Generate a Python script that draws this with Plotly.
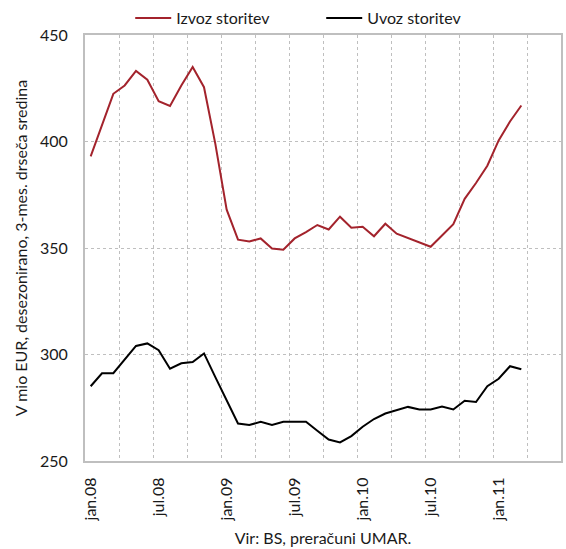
import plotly.graph_objects as go

# Monthly categories, Jan 2008 - Jun 2011
month_names = ["jan", "feb", "mar", "apr", "maj", "jun",
               "jul", "avg", "sep", "okt", "nov", "dec"]
years = ["08", "09", "10", "11"]
categories = [f"{m}.{y}" for y in years for m in month_names][:42]

# 3-month moving averages, seasonally adjusted (mio EUR)
izvoz = [393.0, 407.6, 422.4, 426.3, 433.1, 429.0, 418.9, 416.7, 426.3, 435.0,
         425.5, 398.9, 368.0, 353.9, 353.1, 354.5, 349.8, 349.2, 354.5, 357.5,
         360.8, 358.7, 364.7, 359.5, 360.0, 355.5, 361.4, 356.7, 354.7, 352.7,
         350.6, 355.9, 361.2, 373.1, 380.5, 388.6, 400.5, 409.4, 416.9]
uvoz = [285.1, 291.2, 291.2, 297.7, 304.0, 305.2, 302.0, 293.3, 295.9, 296.5,
        300.5, 289.4, 278.4, 267.6, 266.9, 268.4, 266.9, 268.4, 268.4, 268.4,
        264.2, 260.1, 258.7, 261.7, 266.1, 269.7, 272.3, 273.9, 275.4, 274.2,
        274.2, 275.6, 274.2, 278.3, 277.7, 285.1, 288.6, 294.5, 293.1]

y_ticks = [250, 300, 350, 400, 450]
label_step = 6

FONT = "Lato"
GRID = "#bfbfbf"
FS = 16

fig = go.Figure()
fig.add_trace(go.Scatter(x=list(range(len(izvoz))), y=izvoz, mode="lines",
                         name="Izvoz storitev",
                         line=dict(color="#a3232c", width=2)))
fig.add_trace(go.Scatter(x=list(range(len(uvoz))), y=uvoz, mode="lines",
                         name="Uvoz storitev",
                         line=dict(color="#000000", width=2)))

tick_idx = list(range(0, 37, label_step))
fig.update_layout(
    width=566, height=549,
    margin=dict(l=85, r=5, t=35, b=88, autoexpand=False),
    paper_bgcolor="white", plot_bgcolor="white",
    font=dict(family=FONT, size=FS, color="#1a1a1a"),
    showlegend=True,
    legend=dict(orientation="h", x=0.095, xanchor="left", y=1.0,
                yanchor="bottom", font=dict(size=FS),
                entrywidth=140, entrywidthmode="pixels",
                itemwidth=36, bgcolor="rgba(0,0,0,0)"),
    xaxis=dict(
        range=[-0.5, len(categories) - 0.5],
        tickmode="array", tickvals=tick_idx,
        ticktext=[categories[i] for i in tick_idx],
        tickangle=-90, ticks="", showgrid=False, zeroline=False,
        showline=True, linecolor=GRID, linewidth=2, mirror=True,
        tickfont=dict(size=FS), ticklabelstandoff=8,
        title=dict(text="Vir: BS, preračuni UMAR.", font=dict(size=FS),
                   standoff=12),
        minor=dict(tick0=-0.5, dtick=3, showgrid=True, gridcolor=GRID,
                   griddash="dot", gridwidth=1, ticks=""),
    ),
    yaxis=dict(
        range=[250, 450], tickmode="array", tickvals=y_ticks,
        ticks="", showgrid=True, gridcolor=GRID, griddash="dot",
        gridwidth=1, zeroline=False,
        showline=True, linecolor=GRID, linewidth=2, mirror=True,
        tickfont=dict(size=FS), ticklabelstandoff=12,
        title=dict(text="V mio EUR, desezonirano, 3-mes. drseča sredina",
                   font=dict(size=FS), standoff=8),
    ),
)

fig.write_html("out.html")
